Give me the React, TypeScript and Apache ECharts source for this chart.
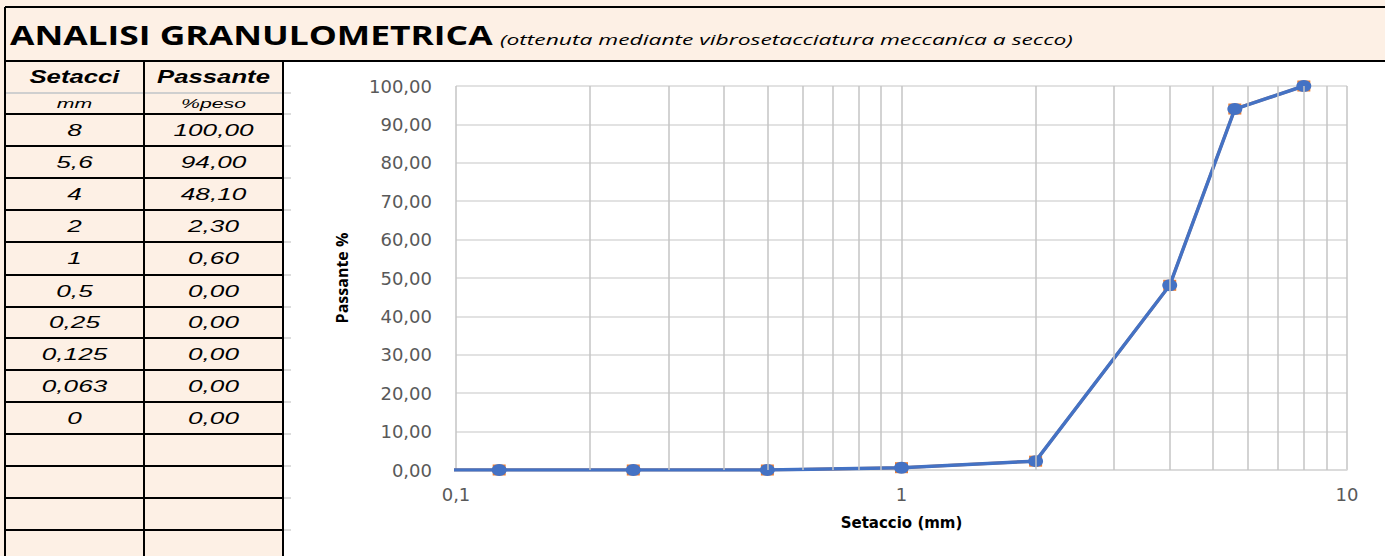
import React, { useEffect, useRef } from "react";
import * as echarts from "echarts";

// ---- data ----
const sieveMm = [8, 5.6, 4, 2, 1, 0.5, 0.25, 0.125, 0.063, 0];
const passing = [100, 94, 48.1, 2.3, 0.6, 0, 0, 0, 0, 0];
const xTickValues = [0.1, 1, 10];
const minorGrid = [0.2, 0.3, 0.4, 0.5, 0.6, 0.7, 0.8, 0.9, 2, 3, 4, 5, 6, 7, 8, 9];
const titleText = "ANALISI GRANULOMETRICA";
const subtitleText = "(ottenuta mediante vibrosetacciatura meccanica a secco)";
const colHeaders = ["Setacci", "Passante"];
const colUnits = ["mm", "%peso"];

const W = 1385;
const H = 556;
const PEACH = "#FDF0E5";

function comma(v: number, digits?: number) {
  const s = digits === undefined ? String(Number(v.toPrecision(6))) : v.toFixed(digits);
  return s.replace(".", ",");
}

let ctx: CanvasRenderingContext2D | null = null;
function measure(text: string, font: string) {
  if (!ctx) ctx = document.createElement("canvas").getContext("2d");
  if (!ctx) return text.length * 8;
  ctx.font = font;
  return ctx.measureText(text).width;
}

export default function App() {
  const ref = useRef<HTMLDivElement>(null);

  useEffect(() => {
    document.body.style.margin = "0";
    if (!ref.current) return;
    const chart = echarts.init(ref.current, undefined, { renderer: "svg" });

    const points = sieveMm
      .map((x, i) => [x, passing[i]])
      .filter((p) => p[0] > 0);

    const graphic: any[] = [];
    // backgrounds
    graphic.push({ type: "rect", shape: { x: 0, y: 0, width: W, height: 61 }, style: { fill: PEACH }, z: 0, silent: true });
    graphic.push({ type: "rect", shape: { x: 0, y: 61, width: 284, height: H - 61 }, style: { fill: PEACH }, z: 0, silent: true });

    const line = (x1: number, y1: number, x2: number, y2: number, stroke = "#000", lw = 2) =>
      graphic.push({ type: "line", shape: { x1, y1, x2, y2 }, style: { stroke, lineWidth: lw }, z: 5, silent: true });

    // table grid
    const rowLines = [114, 146, 178, 210, 242, 275, 307, 338, 370, 402, 434, 466, 498, 530];
    rowLines.forEach((y) => {
      line(5, y, 283, y);
      line(284, y, 291, y, "#d0d0d0", 1.5);
    });
    line(5, 93, 283, 93, "#cfcfcf", 2);
    line(284, 93, 291, 93, "#d0d0d0", 1.5);
    line(5, 7, W, 7);
    line(5, 61, W, 61);
    line(5, 7, 5, H);
    line(144, 61, 144, H);
    line(283, 61, 283, H);

    const col = [74.5, 213.5];
    const text = (t: string, x: number, y: number, font: string, sx: number, align = "center", fill = "#000") =>
      graphic.push({
        type: "text",
        x,
        y,
        scaleX: sx,
        z: 6,
        silent: true,
        style: { text: t, font, fill, align, verticalAlign: "middle" },
      });

    // title
    const titleFont = "bold 26px 'Open Sans'";
    text(titleText, 10, 35, titleFont, 483 / measure(titleText, titleFont), "left");
    const subFont = "italic 15px 'Open Sans'";
    text(subtitleText, 500, 39, subFont, 573 / measure(subtitleText, subFont), "left");

    // headers
    const hFont = "italic bold 18px 'Liberation Sans'";
    const hScale = 113 / measure(colHeaders[1], hFont);
    colHeaders.forEach((h, i) => text(h, col[i], 77, hFont, hScale));
    const uFont = "italic 13px 'Liberation Sans'";
    const uScale = 65 / measure(colUnits[1], uFont);
    colUnits.forEach((u, i) => text(u, col[i], 103.5, uFont, uScale));

    // data rows
    const dFont = "italic 17px 'Liberation Sans'";
    const dScale = 80 / measure("100,00", dFont);
    sieveMm.forEach((s, i) => {
      const cy = (rowLines[i] + rowLines[i + 1]) / 2;
      text(comma(s), col[0], cy, dFont, dScale);
      text(comma(passing[i], 2), col[1], cy, dFont, dScale);
    });

    chart.setOption({
      animation: false,
      backgroundColor: "#ffffff",
      graphic,
      grid: { left: 456, right: W - 1347, top: 86, bottom: H - 470, containLabel: false },
      xAxis: {
        type: "log",
        logBase: 10,
        min: xTickValues[0],
        max: xTickValues[xTickValues.length - 1],
        name: "Setaccio (mm)",
        nameLocation: "middle",
        nameGap: 45,
        nameTextStyle: { fontFamily: "DejaVu Sans", fontWeight: "bold", fontSize: 15, color: "#000" },
        axisLine: { show: true, lineStyle: { color: "#d9d9d9", width: 1.5 } },
        axisTick: { show: false },
        axisLabel: {
          margin: 15,
          fontFamily: "DejaVu Sans",
          fontSize: 18,
          color: "#595959",
          formatter: (v: number) => comma(v),
        },
        splitLine: { show: true, lineStyle: { color: "#c4c4c4", width: 1.5 } },
      },
      yAxis: {
        type: "value",
        min: 0,
        max: 100,
        interval: 10,
        name: "Passante %",
        nameLocation: "middle",
        nameGap: 106,
        nameTextStyle: { fontFamily: "Open Sans", fontWeight: "bold", fontSize: 16, color: "#000" },
        axisLine: { show: false },
        axisTick: { show: false },
        axisLabel: {
          margin: 24,
          fontFamily: "DejaVu Sans",
          fontSize: 18,
          color: "#595959",
          formatter: (v: number) => comma(v, 2),
        },
        splitLine: { show: true, lineStyle: { color: "#d9d9d9", width: 1.5 } },
      },
      series: [
        {
          type: "line",
          data: points,
          z: 1,
          silent: true,
          showSymbol: false,
          symbol: "none",
          lineStyle: { opacity: 0 },
          markLine: {
            silent: true,
            symbol: ["none", "none"],
            label: { show: false },
            lineStyle: { color: "#c4c4c4", width: 1.5, type: "solid" },
            data: minorGrid.map((v) => ({ xAxis: v })),
          },
        },
        {
          type: "line",
          data: points,
          z: 2,
          symbol: "rect",
          symbolSize: [13, 11],
          itemStyle: { color: "#ED7D31" },
          lineStyle: { color: "#ED7D31", width: 3 },
          clip: true,
        },
        {
          type: "line",
          data: points,
          z: 3,
          symbol: "circle",
          symbolSize: [15, 12],
          itemStyle: { color: "#4472C4" },
          lineStyle: { color: "#4472C4", width: 3.5 },
          clip: true,
        },
      ],
    });

    return () => chart.dispose();
  }, []);

  return <div ref={ref} style={{ width: W, height: H }} />;
}
